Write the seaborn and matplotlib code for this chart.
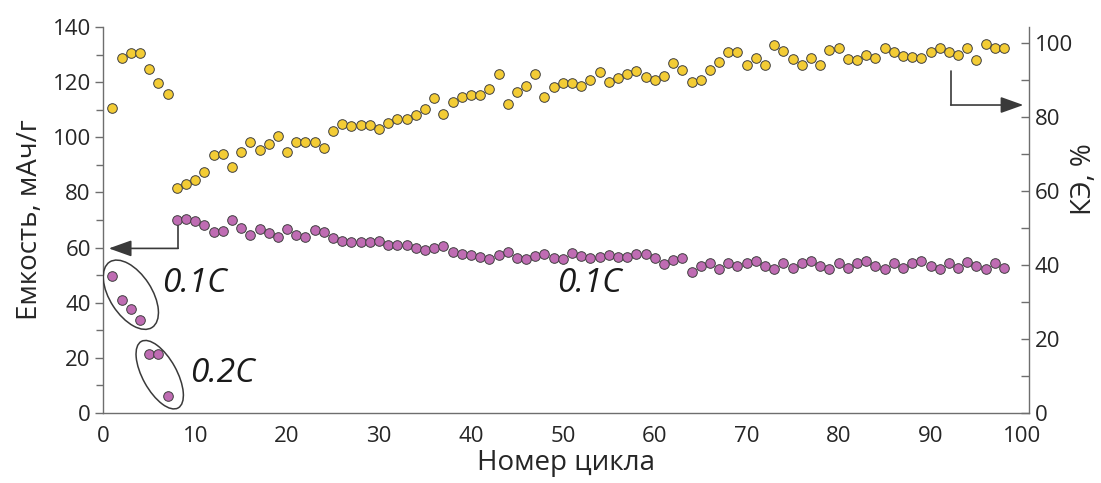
import matplotlib
matplotlib.use("Agg")
import matplotlib.pyplot as plt
import matplotlib.transforms as mtransforms
from matplotlib.patches import Ellipse
from matplotlib.ticker import MultipleLocator
import seaborn as sns
import numpy as np
import pandas as pd

# Номера циклов
cycles = list(range(1, 99))

# Емкость, мАч/г (левая ось)
capacity = [
    49.6, 41.1, 37.7, 33.7, 21.3, 21.3, 6.2, 69.9, 70.2, 69.5,
    68.3, 65.8, 66.1, 70.1, 67.2, 64.7, 66.9, 65.3, 64.0, 66.9,
    64.4, 64.0, 66.2, 65.8, 63.3, 62.4, 62.2, 62.0, 62.2, 62.5,
    61.1, 61.1, 60.8, 59.8, 59.3, 59.8, 60.4, 58.3, 57.8, 57.3,
    56.6, 56.0, 57.2, 58.5, 56.4, 55.9, 56.8, 57.8, 56.4, 55.9,
    57.9, 56.8, 56.4, 56.7, 57.3, 56.6, 56.6, 57.6, 57.5, 56.4,
    54.1, 55.5, 56.2, 51.2, 53.2, 54.4, 52.2, 54.3, 53.2, 54.3,
    55.0, 53.2, 52.2, 54.3, 52.6, 54.3, 55.0, 53.5, 52.2, 54.3,
    52.7, 54.3, 55.0, 53.2, 52.2, 54.3, 52.7, 54.3, 55.0, 53.2,
    52.1, 54.3, 52.7, 54.9, 53.2, 52.1, 54.3, 52.7,
]

# Кулоновская эффективность, % (правая ось)
ce = [
    82.4, 96.0, 97.5, 97.3, 93.1, 89.2, 86.4, 60.9, 61.9, 63.0,
    65.3, 69.7, 70.1, 66.6, 70.7, 73.4, 71.0, 72.8, 74.9, 70.5,
    73.3, 73.4, 73.4, 71.7, 76.2, 78.2, 77.6, 77.8, 77.9, 76.8,
    78.4, 79.6, 79.6, 80.6, 82.1, 85.3, 80.8, 84.2, 85.4, 86.1,
    85.9, 87.7, 91.7, 83.6, 86.9, 88.4, 91.7, 85.4, 88.3, 89.2,
    89.2, 88.4, 90.0, 92.1, 89.4, 90.7, 91.6, 92.6, 90.9, 90.0,
    91.1, 94.6, 92.8, 89.5, 90.2, 92.8, 94.8, 97.6, 97.6, 94.0,
    95.9, 94.0, 99.5, 97.8, 95.7, 94.0, 95.9, 94.0, 98.1, 98.6,
    95.7, 95.6, 96.7, 96.0, 98.6, 97.6, 96.5, 96.2, 95.9, 97.6,
    98.6, 97.6, 96.7, 98.6, 95.6, 99.7, 98.6, 98.6,
]

rate_labels = ["0.1C", "0.2C", "0.1C"]

df = pd.DataFrame({"cycle": cycles, "capacity": capacity, "ce": ce})

sns.set_style("white")
plt.rcParams["font.family"] = ["Open Sans", "DejaVu Sans"]

text_col = "#262626"
spine_col = "#6e6e6e"
yellow = "#F3CC35"
purple = "#BF6CB3"

fig = plt.figure(figsize=(11.01, 4.83), dpi=100)
ax = fig.add_axes([0.0938, 0.1449, 0.9349 - 0.0938, 0.9441 - 0.1449])
ax2 = ax.twinx()

sns.scatterplot(data=df, x="cycle", y="capacity", ax=ax, color=purple,
                s=48, edgecolor="#3f3f3f", linewidth=0.7, zorder=3)
sns.scatterplot(data=df, x="cycle", y="ce", ax=ax2, color=yellow,
                s=48, edgecolor="#3f3f3f", linewidth=0.7, zorder=3)

ax.set_xlim(0, 100.75)
ax.set_ylim(0, 140)
ax2.set_ylim(0, 104.4)

ax.xaxis.set_major_locator(MultipleLocator(10))
ax.xaxis.set_minor_locator(MultipleLocator(5))
ax.yaxis.set_major_locator(MultipleLocator(20))
ax.yaxis.set_minor_locator(MultipleLocator(10))
ax2.yaxis.set_major_locator(MultipleLocator(20))
ax2.yaxis.set_minor_locator(MultipleLocator(10))

for a in (ax, ax2):
    a.spines["top"].set_visible(False)
    for s in ("left", "bottom", "right"):
        a.spines[s].set_color(spine_col)
        a.spines[s].set_linewidth(1.0)
ax.spines["right"].set_visible(False)
ax2.spines["left"].set_visible(False)
ax2.spines["bottom"].set_visible(False)

ax.tick_params(axis="x", which="major", direction="out", length=6, width=1,
               color=spine_col, labelsize=16, labelcolor=text_col, pad=3)
ax.tick_params(axis="x", which="minor", direction="out", length=4, width=1, color=spine_col)
ax.tick_params(axis="y", which="major", direction="out", length=6, width=1,
               color=spine_col, labelsize=16, labelcolor=text_col, pad=3)
ax.tick_params(axis="y", which="minor", direction="out", length=5, width=1, color=spine_col)
ax2.tick_params(axis="y", which="major", direction="in", length=6, width=1,
                color=spine_col, labelsize=16, labelcolor=text_col, pad=4)
ax2.tick_params(axis="y", which="minor", direction="in", length=6, width=1, color=spine_col)

ax.set_xlabel("Номер цикла", fontsize=20, color=text_col, labelpad=2)
ax.set_ylabel("Емкость, мАч/г", fontsize=20, color=text_col, labelpad=6)
ax2.set_ylabel("КЭ, %", fontsize=20, color=text_col, rotation=90,
               va="center", ha="center")
ax2.yaxis.set_label_coords(1.059, 0.605)

# стрелки к осям
arrow_kw = dict(arrowstyle="-|>,head_length=0.7,head_width=0.25", color="#3a3a3a",
                lw=1.2, mutation_scale=20, shrinkA=0, shrinkB=0)
ax.plot([8.15, 8.15], [69.9, 59.7], color="#3a3a3a", lw=1.2, zorder=2)
ax.annotate("", xy=(0.6, 59.7), xytext=(8.15, 59.7), arrowprops=arrow_kw, zorder=2)
ax2.plot([92.2, 92.2], [92.5, 83.3], color="#3a3a3a", lw=1.2, zorder=2)
ax2.annotate("", xy=(100.1, 83.3), xytext=(92.2, 83.3), arrowprops=arrow_kw,
             annotation_clip=False, zorder=2)

# овалы вокруг первых циклов
for (xc, yc), w, h, ang in [((3.0, 42.9), 0.78, 0.42, -57), ((6.14, 13.9), 0.76, 0.34, -61)]:
    tr = fig.dpi_scale_trans + mtransforms.ScaledTranslation(xc, yc, ax.transData)
    ax.add_patch(Ellipse((0, 0), w, h, angle=ang, transform=tr, fill=False,
                         edgecolor="#3a3a3a", lw=1.1, zorder=4))

for (tx, ty), lab in zip([(6.4, 46.9), (9.4, 14.2), (49.4, 46.9)], rate_labels):
    ax.text(tx, ty, lab, fontsize=24, style="italic", color="#1a1a1a",
            ha="left", va="center")

fig.savefig("out.png", dpi=100)
